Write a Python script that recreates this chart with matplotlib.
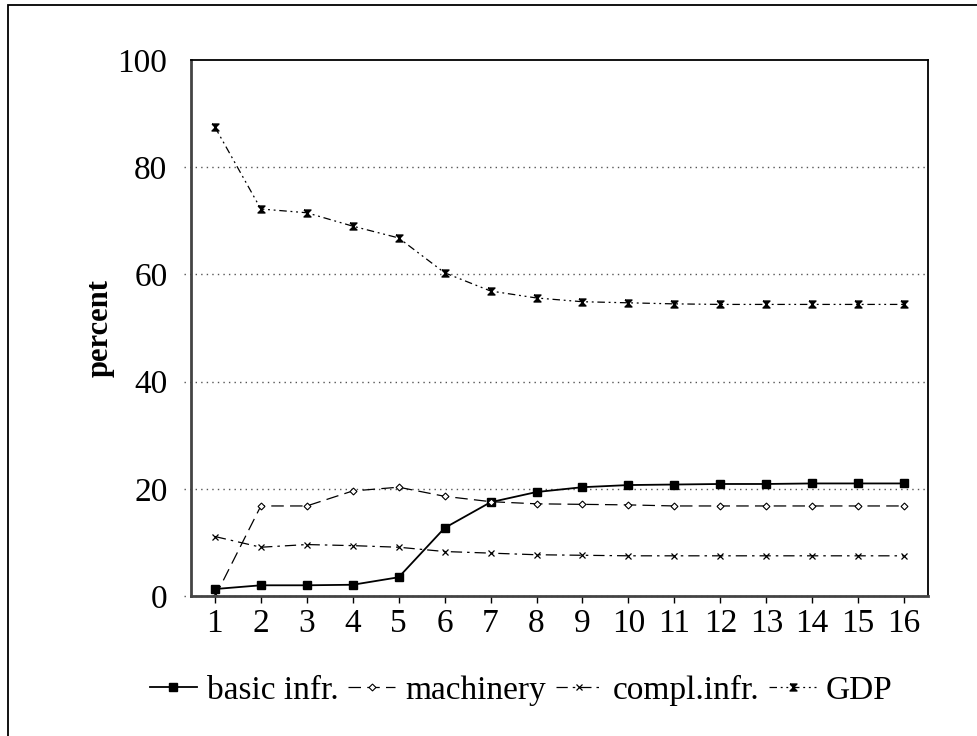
import matplotlib
matplotlib.use('Agg')
import matplotlib.pyplot as plt
from matplotlib.patches import Rectangle

plt.rcParams['font.family'] = ['Liberation Serif', 'DejaVu Serif']

# periods
periods = list(range(1, 17))

# series values (percent)
basic_infr = [1.3, 2.0, 2.0, 2.1, 3.5, 12.7, 17.5, 19.4, 20.3, 20.7, 20.8, 20.9, 20.9, 21.0, 21.0, 21.0]
machinery = [-0.2, 16.8, 16.8, 19.6, 20.3, 18.6, 17.6, 17.2, 17.1, 17.0, 16.8, 16.8, 16.8, 16.8, 16.8, 16.8]
compl_infr = [11.1, 9.1, 9.6, 9.4, 9.1, 8.3, 8.0, 7.7, 7.6, 7.5, 7.5, 7.5, 7.5, 7.5, 7.5, 7.5]
gdp = [87.5, 72.2, 71.5, 69.0, 66.8, 60.3, 56.9, 55.6, 54.9, 54.7, 54.5, 54.4, 54.4, 54.4, 54.4, 54.4]

labels = ['basic infr.', 'machinery', 'compl.infr.', 'GDP']
yticks = [0, 20, 40, 60, 80, 100]

# hourglass marker for GDP
hourglass = [(-1, 1), (1, 1), (-1, -1), (1, -1), (-1, 1)]

fig = plt.figure(figsize=(9.78, 7.36), dpi=100)
ax = fig.add_axes([0.1953, 0.1902, 0.7536, 0.7283])

ax.plot(periods, basic_infr, color='black', lw=1.3, ls='-', marker='s', ms=6, label=labels[0])
ax.plot(periods, machinery, color='black', lw=0.9, ls=(0, (10, 5)), marker='D', ms=3.5,
        mfc='white', mew=0.8, label=labels[1])
ax.plot(periods, compl_infr, color='black', lw=0.9, ls=(0, (9, 4, 2, 4)), marker='x', ms=4,
        mew=0.9, label=labels[2])
ax.plot(periods, gdp, color='black', lw=0.9, ls=(0, (6, 3, 1.5, 3, 1.5, 3)), marker=hourglass, ms=5,
        label=labels[3])

# dotted gridlines that poke slightly left of the axis
for y in yticks[:-1]:
    ax.axhline(y, xmin=-0.009, xmax=1, color='#555555', lw=1.0, ls=(0, (1, 3)), clip_on=False, zorder=0)

ax.set_xlim(0.48, 16.52)
ax.set_ylim(0, 100)
ax.set_xticks(periods)
ax.set_yticks(yticks)
ax.tick_params(axis='x', labelsize=24, direction='out', length=5, width=1, pad=4)
ax.tick_params(axis='y', labelsize=24, length=0, pad=17)
ax.set_ylabel('percent', fontsize=22, fontweight='bold', labelpad=2)

ax.spines['left'].set_linewidth(2)
ax.spines['left'].set_color('#444444')
ax.spines['bottom'].set_linewidth(2)
ax.spines['bottom'].set_color('#444444')
ax.spines['top'].set_linewidth(1.3)
ax.spines['right'].set_linewidth(1.3)

leg = fig.legend(loc='center', bbox_to_anchor=(0.533, 0.062), ncol=4, frameon=False,
                 fontsize=24, handlelength=1.4, handletextpad=0.3, columnspacing=0.3)

# outer frame, partly cut off at right and bottom
fig.patches.append(Rectangle((8 / 978, -0.1), 1.2, 1.1 - 5 / 736, transform=fig.transFigure,
                             fill=False, edgecolor='black', lw=1.3))

fig.savefig('out.png', dpi=100)
